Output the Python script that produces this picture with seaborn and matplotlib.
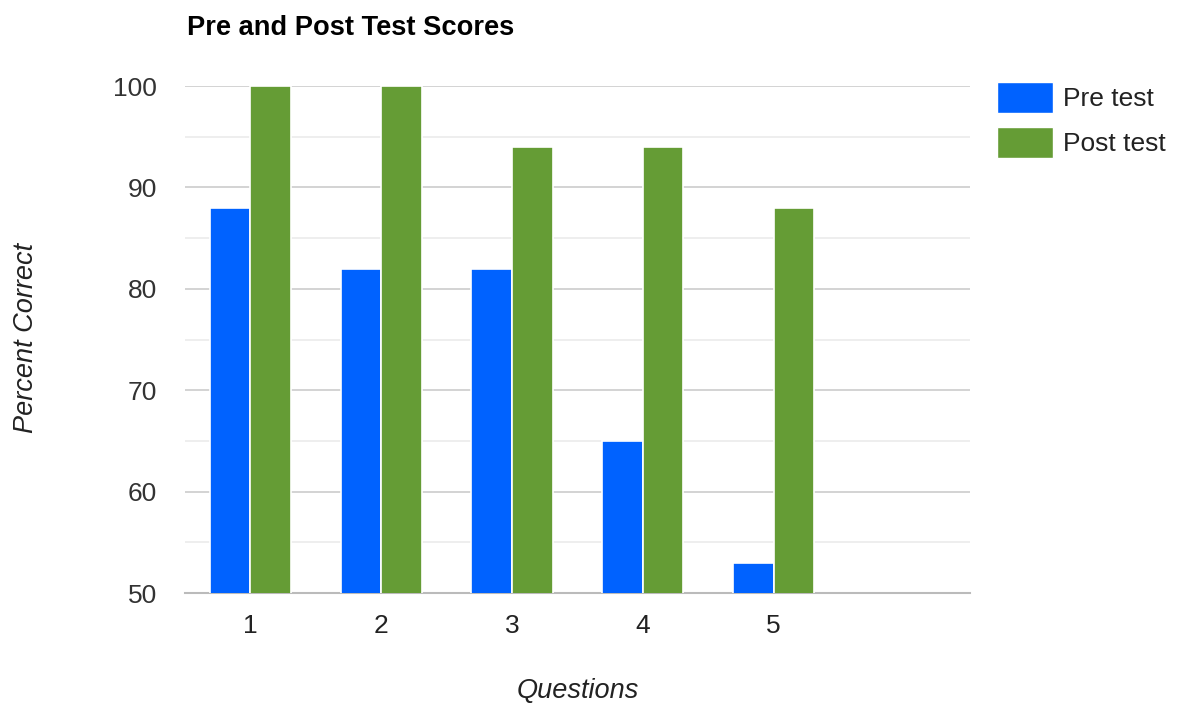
import pandas as pd
import seaborn as sns
import matplotlib.pyplot as plt

questions = ["1", "2", "3", "4", "5"]
pre_test = [88, 82, 82, 65, 53]
post_test = [100, 100, 94, 94, 88]
series_names = ["Pre test", "Post test"]
colors = ["#0062ff", "#659c35"]
y_ticks = [50, 60, 70, 80, 90, 100]

df = pd.DataFrame({
    "Question": questions * 2,
    "Score": pre_test + post_test,
    "Test": [series_names[0]] * len(questions) + [series_names[1]] * len(questions),
})

sns.set_style("white")
plt.rcParams["font.family"] = ["Liberation Sans", "DejaVu Sans"]

fig = plt.figure(figsize=(11.81, 7.08), dpi=100)
ax = fig.add_axes([0.1566, 0.1624, 0.6647, 0.7161])

# empty sixth slot like the original chart
order = questions + [" "]
sns.barplot(
    data=df, x="Question", y="Score", hue="Test",
    order=order, hue_order=series_names, palette=colors,
    width=0.62, edgecolor="white", linewidth=1.2, saturation=1,
    ax=ax, legend=False, zorder=3,
)

ax.set_ylim(50, 100)
ax.set_yticks(y_ticks)
ax.set_yticks([55, 65, 75, 85, 95], minor=True)
ax.grid(axis="y", which="major", color="#cccccc", linewidth=1.2, zorder=0)
ax.grid(axis="y", which="minor", color="#ebebeb", linewidth=1.2, zorder=0)
ax.set_axisbelow(True)
for s in ["top", "right", "left"]:
    ax.spines[s].set_visible(False)
ax.spines["bottom"].set_color("#bbbbbb")
ax.spines["bottom"].set_linewidth(1.5)
ax.tick_params(axis="y", which="both", length=0, pad=20, labelsize=19, labelcolor="#333333")
ax.tick_params(axis="x", length=0, pad=15, labelsize=19, labelcolor="#222222")

ax.set_xlabel("")
ax.set_ylabel("")
fig.text(0.4890, 0.014, "Questions", ha="center", va="baseline", fontsize=19.5,
         style="italic", color="#222222")
fig.text(0.022, 0.522, "Percent Correct", ha="center", va="center", fontsize=19.5,
         style="italic", rotation=90, color="#222222")
fig.text(0.158, 0.960, "Pre and Post Test Scores", ha="left", va="center",
         fontsize=19.6, fontweight="bold", color="black")

handles = [plt.Rectangle((0, 0), 1, 1, facecolor=c, edgecolor="white") for c in colors]
fig.legend(handles, series_names, loc="upper left", bbox_to_anchor=(0.844, 0.884),
           frameon=False, fontsize=19, handlelength=2.12, handleheight=1.4,
           handletextpad=0.4, labelspacing=0.55, borderpad=0, borderaxespad=0,
           labelcolor="#222222")

fig.savefig("out.png", dpi=100)
